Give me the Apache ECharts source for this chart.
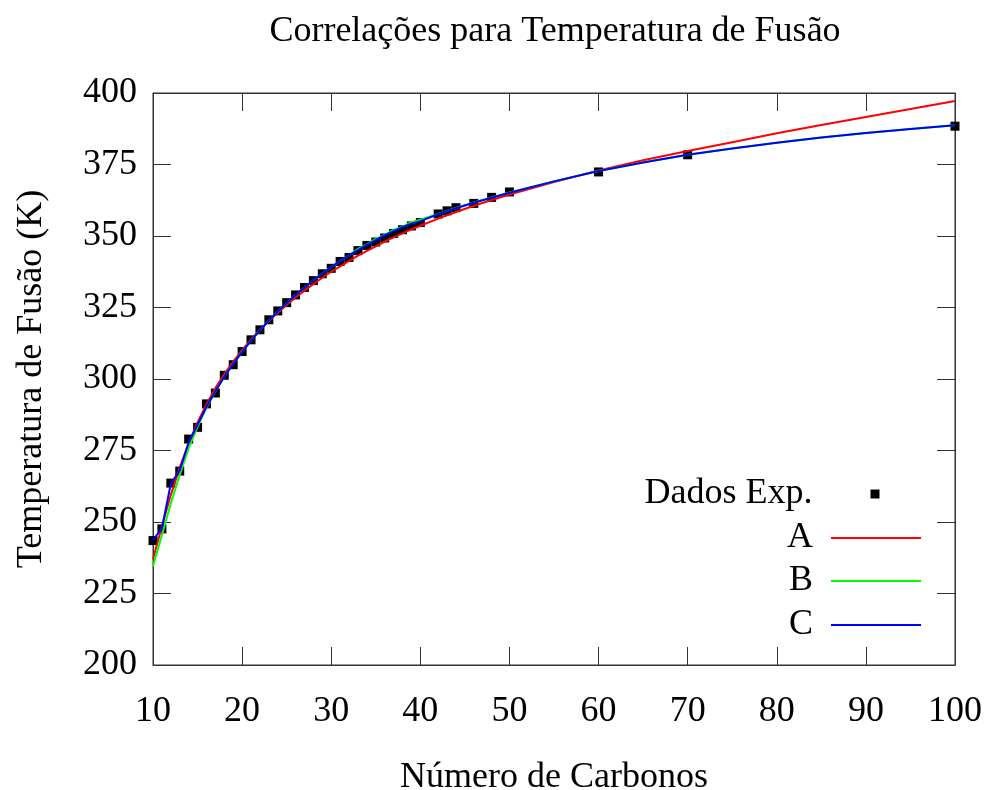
<!DOCTYPE html>
<html>
<head>
<meta charset="utf-8">
<script src="https://cdn.jsdelivr.net/npm/echarts@6/dist/echarts.min.js"></script>
<style>
  html, body { margin: 0; padding: 0; background: #fff; }
  #chart { width: 988px; height: 790px; }
</style>
</head>
<body>
<div id="chart"></div>
<script>
// Experimental melting points of n-alkanes (carbon number, K)
const nExp = [10, 11, 12, 13, 14, 15, 16, 17, 18, 19, 20, 21, 22, 23, 24, 25, 26, 27, 28, 29,
              30, 31, 32, 33, 34, 35, 36, 37, 38, 39, 40, 42, 43, 44, 46, 48, 50, 60, 70, 100];
const tExp = [243.5, 247.6, 263.6, 267.8, 279.0, 283.1, 291.3, 295.1, 301.3, 305.0,
              309.6, 313.7, 317.2, 320.7, 323.8, 326.7, 329.4, 332.0, 334.4, 336.8,
              338.7, 341.1, 342.5, 344.9, 346.7, 347.9, 349.3, 350.9, 352.2, 353.5,
              354.7, 357.7, 358.8, 359.9, 361.4, 363.5, 365.4, 372.4, 378.4, 388.4];

// Carbon numbers at which the correlations are evaluated
const nCorr = [10, 11, 12, 13, 14, 15, 16, 17, 18, 19, 20, 21, 22, 23, 24, 25, 26, 27, 28, 29,
               30, 31, 32, 33, 34, 35, 36, 37, 38, 39, 40, 42, 44, 46, 48, 50,
               55, 60, 65, 70, 75, 80, 85, 90, 95, 100];

// Correlation A
const corrA = [237.0, 248.5, 259.5, 269.0, 277.5, 284.8, 291.2, 296.8, 301.7, 306.1,
               310.1, 313.8, 317.2, 320.3, 323.2, 325.9, 328.5, 330.9, 333.2, 335.4,
               337.5, 339.4, 341.3, 343.1, 344.8, 346.4, 348.0, 349.5, 350.9, 352.3,
               353.6, 356.1, 358.4, 360.6, 362.6, 364.5,
               368.9, 372.9, 376.5, 379.7, 382.8, 385.9, 388.8, 391.6, 394.4, 397.2];

// Correlation B
const corrB = [234.5, 245.5, 256.5, 266.5, 275.8, 283.3, 289.9, 295.6, 300.8, 305.3,
               309.5, 313.4, 317.0, 320.4, 323.6, 326.6, 329.4, 332.0, 334.5, 336.9,
               339.1, 341.2, 343.2, 345.5, 347.1, 349.0, 350.4, 352.1, 353.3, 354.8,
               355.7, 357.7, 359.8, 361.7, 363.5, 365.2,
               369.1, 372.7, 375.7, 378.4, 380.6, 382.6, 384.4, 386.0, 387.4, 388.7];

// Correlation C
const corrC = [243.7, 247.8, 263.4, 268.0, 277.8, 284.0, 290.3, 295.7, 300.8, 305.3,
               309.5, 313.4, 317.0, 320.4, 323.6, 326.6, 329.4, 332.0, 334.5, 336.9,
               339.1, 341.2, 343.2, 345.1, 346.9, 348.6, 350.2, 351.7, 353.1, 354.3,
               355.2, 357.6, 359.7, 361.6, 363.4, 365.1,
               369.1, 372.7, 375.7, 378.4, 380.6, 382.6, 384.4, 386.0, 387.4, 388.7];

const xTicks = { min: 10, max: 100, interval: 10 };
const yTicks = { min: 200, max: 400, interval: 25 };

const FONT = 'Liberation Serif';
const INK = '#000';
const FRAME = '#333';

function pairs(xs, ys) { return xs.map((x, i) => [x, ys[i]]); }

const tickStyle = { show: true, inside: true, length: 18, lineStyle: { color: FRAME, width: 1 } };

const chart = echarts.init(document.getElementById('chart'), null, { renderer: 'canvas' });

// One legend block per entry, right-aligned so the keys line up in a column
function legendEntry(name, icon, centerY, iconW, iconH, rightEdge, textGap) {
  return {
    data: [{ name: name, icon: icon }],
    right: 988 - rightEdge,
    top: centerY - 18,
    orient: 'horizontal',
    align: 'right',
    padding: 0,
    itemWidth: iconW,
    itemHeight: iconH,
    selectedMode: false,
    textStyle: { fontFamily: FONT, fontSize: 36, color: INK, padding: [0, textGap - 5, 0, 0] }
  };
}

chart.setOption({
  animation: false,
  backgroundColor: '#fff',
  title: {
    text: 'Correlações para Temperatura de Fusão',
    left: 555,
    top: 14,
    textAlign: 'center',
    padding: 0,
    textStyle: { fontFamily: FONT, fontSize: 36, fontWeight: 'normal', color: INK }
  },
  legend: [
    legendEntry('Dados Exp.', 'rect', 494, 9, 9, 879.5, 58),
    legendEntry('A', 'rect', 538, 90, 2, 921, 18),
    legendEntry('B', 'rect', 581, 90, 2, 921, 18),
    legendEntry('C', 'rect', 625, 90, 2, 921, 18)
  ],
  grid: {
    left: 153, right: 33, top: 93, bottom: 125,
    show: true, borderColor: FRAME, borderWidth: 1,
    outerBoundsMode: 'none'
  },
  xAxis: [
    {
      type: 'value', position: 'bottom', ...xTicks,
      name: 'Número de Carbonos', nameLocation: 'middle', nameGap: 95,
      nameTextStyle: { fontFamily: FONT, fontSize: 36, color: INK },
      axisLine: { show: true, lineStyle: { color: FRAME, width: 1 } },
      axisTick: tickStyle,
      axisLabel: { fontFamily: FONT, fontSize: 36, color: INK, margin: 29 },
      splitLine: { show: false }
    },
    {
      type: 'value', position: 'top', ...xTicks,
      axisLine: { show: true, lineStyle: { color: FRAME, width: 1 } },
      axisTick: tickStyle,
      axisLabel: { show: false },
      splitLine: { show: false }
    }
  ],
  yAxis: [
    {
      type: 'value', position: 'left', ...yTicks,
      name: 'Temperatura de Fusão (K)', nameLocation: 'middle', nameGap: 103,
      nameTextStyle: { fontFamily: FONT, fontSize: 36, color: INK },
      axisLine: { show: true, lineStyle: { color: FRAME, width: 1 } },
      axisTick: tickStyle,
      axisLabel: { fontFamily: FONT, fontSize: 36, color: INK, margin: 16 },
      splitLine: { show: false }
    },
    {
      type: 'value', position: 'right', ...yTicks,
      axisLine: { show: true, lineStyle: { color: FRAME, width: 1 } },
      axisTick: tickStyle,
      axisLabel: { show: false },
      splitLine: { show: false }
    }
  ],
  series: [
    {
      name: 'Dados Exp.', type: 'scatter', xAxisIndex: 0, yAxisIndex: 0,
      symbol: 'rect', symbolSize: 9,
      itemStyle: { color: '#000', opacity: 1 },
      data: pairs(nExp, tExp), z: 2
    },
    {
      name: 'A', type: 'line', xAxisIndex: 0, yAxisIndex: 0,
      symbol: 'none', showSymbol: false,
      lineStyle: { color: '#ff0000', width: 2 }, itemStyle: { color: '#ff0000' },
      data: pairs(nCorr, corrA), z: 3
    },
    {
      name: 'B', type: 'line', xAxisIndex: 0, yAxisIndex: 0,
      symbol: 'none', showSymbol: false,
      lineStyle: { color: '#00ff00', width: 2 }, itemStyle: { color: '#00ff00' },
      data: pairs(nCorr, corrB), z: 4
    },
    {
      name: 'C', type: 'line', xAxisIndex: 0, yAxisIndex: 0,
      symbol: 'none', showSymbol: false,
      lineStyle: { color: '#0000ff', width: 2 }, itemStyle: { color: '#0000ff' },
      data: pairs(nCorr, corrC), z: 5
    }
  ]
});
</script>
</body>
</html>
